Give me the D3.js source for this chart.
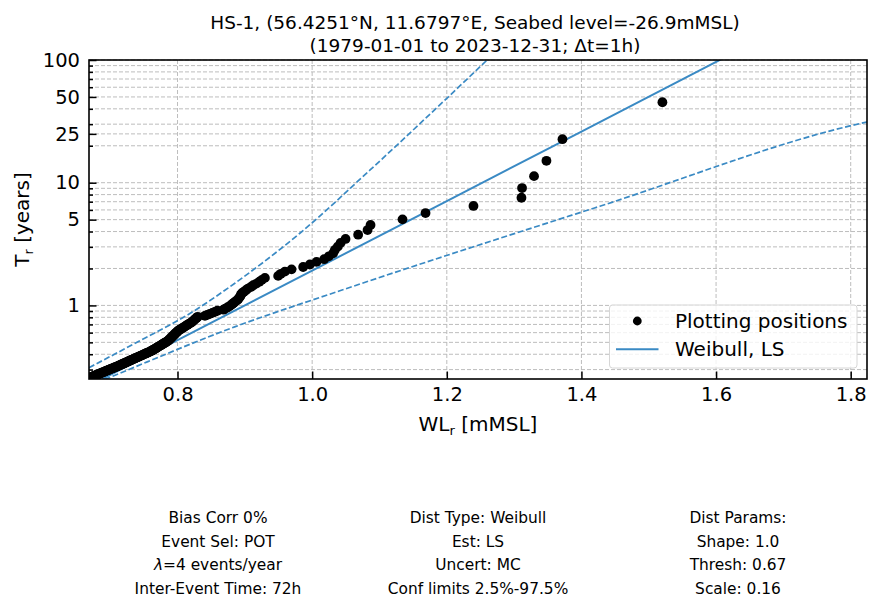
<!DOCTYPE html>
<html>
<head>
<meta charset="utf-8">
<script src="https://cdn.jsdelivr.net/npm/d3@7"></script>
<style>
  html, body { margin: 0; padding: 0; background: #fff; }
  svg { display: block; font-family: "DejaVu Sans", sans-serif; }
</style>
</head>
<body>
<svg id="chart" width="869" height="599"></svg>
<script>
// ---------------- DATA ----------------
const titleLines = [
  "HS-1, (56.4251°N, 11.6797°E, Seabed level=-26.9mMSL)",
  "(1979-01-01 to 2023-12-31; Δt=1h)"
];
const xDomain = [0.6685, 1.8242];
const yDomain = [0.2514, 100];
const xTicks = [0.8, 1.0, 1.2, 1.4, 1.6, 1.8];
const xTickLabels = ["0.8", "1.0", "1.2", "1.4", "1.6", "1.8"];
const yTicks = [1, 5, 10, 25, 50, 100];
const yTickLabels = ["1", "5", "10", "25", "50", "100"];
const yMinorTicks = [0.3, 0.4, 0.5, 0.6, 0.7, 0.8, 0.9, 2, 3, 4, 6, 7, 8, 9, 20, 30, 40, 60, 70, 80, 90];

// Plotting positions (water level, return period)
const ppWL = [
  1.5203, 1.3718, 1.3480, 1.3296, 1.3118, 1.3109, 1.2396, 1.1684, 1.1342, 1.0867,
  1.0823, 1.0683, 1.0496, 1.0422, 1.0382, 1.0337, 1.0312, 1.0248, 1.0178, 1.0065,
  0.9966, 0.9866, 0.9694, 0.9595, 0.9535, 0.9495, 0.9298, 0.9253, 0.9216, 0.9172,
  0.9124, 0.9090, 0.9045, 0.9016, 0.8986, 0.8956, 0.8941, 0.8934, 0.8919, 0.8904,
  0.8889, 0.8860, 0.8837, 0.8815, 0.8793, 0.8771, 0.8741, 0.8711, 0.8682, 0.8592,
  0.8555, 0.8518, 0.8481, 0.8444, 0.8407, 0.8300, 0.8285, 0.8270, 0.8255, 0.8240,
  0.8225, 0.8210, 0.8190, 0.8170, 0.8151, 0.8131, 0.8112, 0.8094, 0.8075, 0.8057,
  0.8039, 0.8021, 0.8006, 0.7996, 0.7985, 0.7975, 0.7964, 0.7954, 0.7944, 0.7934,
  0.7925, 0.7915, 0.7906, 0.7896, 0.7887, 0.7878, 0.7869, 0.7858, 0.7844, 0.7829,
  0.7815, 0.7800, 0.7786, 0.7772, 0.7759, 0.7745, 0.7732, 0.7718, 0.7705, 0.7692,
  0.7679, 0.7666, 0.7653, 0.7641, 0.7628, 0.7616, 0.7600, 0.7584, 0.7567, 0.7552,
  0.7536, 0.7520, 0.7505, 0.7489, 0.7474, 0.7459, 0.7444, 0.7429, 0.7414, 0.7400,
  0.7385, 0.7371, 0.7356, 0.7342, 0.7328, 0.7314, 0.7301, 0.7287, 0.7273, 0.7260,
  0.7246, 0.7233, 0.7220, 0.7207, 0.7194, 0.7181, 0.7168, 0.7155, 0.7143, 0.7130,
  0.7118, 0.7104, 0.7091, 0.7078, 0.7064, 0.7051, 0.7038, 0.7025, 0.7012, 0.7000,
  0.6987, 0.6974, 0.6962, 0.6949, 0.6937, 0.6925, 0.6912, 0.6900, 0.6888, 0.6876,
  0.6864, 0.6852, 0.6841, 0.6829, 0.6817, 0.6806, 0.6794, 0.6783, 0.6771, 0.6760,
  0.6749, 0.6738, 0.6727, 0.6716, 0.6705, 0.6694, 0.6685, 0.6682, 0.6680, 0.6678
];
const ppTr = [
  45.25, 22.63, 15.08, 11.31, 9.050, 7.542, 6.464, 5.656, 5.028, 4.525,
  4.114, 3.771, 3.481, 3.232, 3.017, 2.828, 2.662, 2.514, 2.382, 2.263,
  2.155, 2.057, 1.967, 1.885, 1.810, 1.740, 1.676, 1.616, 1.560, 1.508,
  1.460, 1.414, 1.371, 1.331, 1.293, 1.257, 1.223, 1.191, 1.160, 1.131,
  1.104, 1.077, 1.052, 1.028, 1.006, 0.984, 0.963, 0.943, 0.923, 0.905,
  0.887, 0.870, 0.854, 0.838, 0.823, 0.808, 0.794, 0.780, 0.767, 0.754,
  0.742, 0.730, 0.718, 0.707, 0.696, 0.686, 0.675, 0.665, 0.656, 0.646,
  0.637, 0.628, 0.620, 0.611, 0.603, 0.595, 0.588, 0.580, 0.573, 0.566,
  0.559, 0.552, 0.545, 0.539, 0.532, 0.526, 0.520, 0.514, 0.508, 0.503,
  0.497, 0.492, 0.487, 0.481, 0.476, 0.471, 0.466, 0.462, 0.457, 0.4525,
  0.448, 0.444, 0.439, 0.435, 0.431, 0.427, 0.423, 0.419, 0.415, 0.411,
  0.408, 0.404, 0.400, 0.397, 0.393, 0.390, 0.387, 0.383, 0.380, 0.377,
  0.374, 0.371, 0.368, 0.365, 0.362, 0.359, 0.356, 0.354, 0.351, 0.348,
  0.345, 0.343, 0.340, 0.338, 0.335, 0.333, 0.330, 0.328, 0.326, 0.323,
  0.321, 0.319, 0.316, 0.314, 0.312, 0.310, 0.308, 0.306, 0.304, 0.302,
  0.300, 0.298, 0.296, 0.294, 0.292, 0.290, 0.288, 0.286, 0.285, 0.283,
  0.281, 0.279, 0.278, 0.276, 0.274, 0.273, 0.271, 0.269, 0.268, 0.266,
  0.265, 0.263, 0.262, 0.260, 0.259, 0.257, 0.256, 0.254, 0.253, 0.2514
];

// Weibull LS fit line
const fitWL = [0.660, 0.800, 1.000, 1.200, 1.400, 1.620];
const fitTr = [0.209, 0.522, 1.923, 7.09, 26.1, 110];
// Confidence limits (dashed)
const upperWL = [0.6685, 0.7442, 0.8184, 0.8852, 0.9817, 1.0857, 1.1996, 1.2628, 1.285];
const upperTr = [0.311, 0.516, 0.859, 1.517, 3.873, 12.65, 48.5, 103.5, 135];
const lowerWL = [0.668, 0.6892, 0.8859, 1.0411, 1.4273, 1.8237, 1.84];
const lowerTr = [0.221, 0.2462, 0.672, 1.316, 6.43, 31.2, 32.6];

const legendLabels = ["Plotting positions", "Weibull, LS"];
const xLabel = ["WL", "r", " [mMSL]"];
const yLabel = ["T", "r", " [years]"];
const infoColumns = [
  ["Bias Corr 0%", "Event Sel: POT", "λ=4 events/year", "Inter-Event Time: 72h"],
  ["Dist Type: Weibull", "Est: LS", "Uncert: MC", "Conf limits 2.5%-97.5%"],
  ["Dist Params:", "Shape: 1.0", "Thresh: 0.67", "Scale: 0.16"]
];

// ---------------- LAYOUT / STYLE ----------------
const P = { left: 89, right: 867, top: 60, bottom: 379 };
const blue = "#3a8ac4";
const gridColor = "#bdbdbd";

const svg = d3.select("#chart");
const x = d3.scaleLinear().domain(xDomain).range([P.left, P.right]);
const y = d3.scaleLog().domain(yDomain).range([P.bottom, P.top]);

svg.append("defs").append("clipPath").attr("id", "plotclip")
  .append("rect").attr("x", P.left).attr("y", P.top)
  .attr("width", P.right - P.left).attr("height", P.bottom - P.top);

// Grid
const grid = svg.append("g");
grid.selectAll("line.hg").data(yTicks.concat(yMinorTicks)).join("line")
  .attr("x1", P.left).attr("x2", P.right)
  .attr("y1", d => y(d)).attr("y2", d => y(d))
  .attr("stroke", gridColor).attr("stroke-width", 1).attr("stroke-dasharray", "4,2");
grid.selectAll("line.vg").data(xTicks).join("line")
  .attr("y1", P.top).attr("y2", P.bottom)
  .attr("x1", d => x(d)).attr("x2", d => x(d))
  .attr("stroke", gridColor).attr("stroke-width", 1).attr("stroke-dasharray", "4,2");

// Data layer
const plot = svg.append("g").attr("clip-path", "url(#plotclip)");
const lineGen = d3.line().x(d => x(d[0])).y(d => y(d[1]));
const smoothGen = d3.line().x(d => x(d[0])).y(d => y(d[1])).curve(d3.curveMonotoneX);

plot.append("path").datum(d3.zip(upperWL, upperTr)).attr("d", smoothGen)
  .attr("fill", "none").attr("stroke", blue).attr("stroke-width", 1.7)
  .attr("stroke-dasharray", "6,2.6");
plot.append("path").datum(d3.zip(lowerWL, lowerTr)).attr("d", smoothGen)
  .attr("fill", "none").attr("stroke", blue).attr("stroke-width", 1.7)
  .attr("stroke-dasharray", "6,2.6");
plot.append("path").datum(d3.zip(fitWL, fitTr)).attr("d", lineGen)
  .attr("fill", "none").attr("stroke", blue).attr("stroke-width", 2);

plot.selectAll("circle").data(d3.zip(ppWL, ppTr)).join("circle")
  .attr("cx", d => x(d[0])).attr("cy", d => y(d[1])).attr("r", 4.9)
  .attr("fill", "#000");

// Axes (ticks pointing inwards)
const fs = 19.5;
const xAxis = d3.axisBottom(x).tickValues(xTicks)
  .tickFormat((d, i) => xTickLabels[i]).tickSize(-7.5).tickPadding(8.5);
const gx = svg.append("g").attr("transform", `translate(0,${P.bottom})`).call(xAxis);
const yAxis = d3.axisLeft(y).tickValues(yTicks)
  .tickFormat((d, i) => yTickLabels[i]).tickSize(-7.5).tickPadding(9);
const gy = svg.append("g").attr("transform", `translate(${P.left},0)`).call(yAxis);
const yMinor = d3.axisLeft(y).tickValues(yMinorTicks).tickFormat("").tickSize(-4);
const gym = svg.append("g").attr("transform", `translate(${P.left},0)`).call(yMinor);
[gx, gy, gym].forEach(g => {
  g.select(".domain").remove();
  g.selectAll(".tick line").attr("stroke", "#000").attr("stroke-width", 1.5);
  g.selectAll(".tick text").attr("fill", "#000")
    .style("font-family", "DejaVu Sans").style("font-size", fs + "px");
});

// Frame
svg.append("rect").attr("x", P.left).attr("y", P.top)
  .attr("width", P.right - P.left).attr("height", P.bottom - P.top)
  .attr("fill", "none").attr("stroke", "#000").attr("stroke-width", 1.6);

// Axis labels
const xl = svg.append("text").attr("x", (P.left + P.right) / 2).attr("y", 431)
  .attr("text-anchor", "middle").style("font-size", "20px");
xl.append("tspan").text(xLabel[0]);
xl.append("tspan").attr("dy", 4).style("font-size", "13px").text(xLabel[1]);
xl.append("tspan").attr("dy", -4).text(xLabel[2]);

const yl = svg.append("text")
  .attr("transform", `translate(29,${(P.top + P.bottom) / 2}) rotate(-90)`)
  .attr("text-anchor", "middle").style("font-size", "20px");
yl.append("tspan").text(yLabel[0]);
yl.append("tspan").attr("dy", 4).style("font-size", "13px").text(yLabel[1]);
yl.append("tspan").attr("dy", -4).text(yLabel[2]);

// Title
svg.selectAll("text.title").data(titleLines).join("text")
  .attr("class", "title")
  .attr("x", 475).attr("y", (d, i) => 28.5 + i * 23.5)
  .attr("text-anchor", "middle").style("font-size", "18.5px").text(d => d);

// Legend
const lg = svg.append("g");
lg.append("rect").attr("x", 609.5).attr("y", 305).attr("width", 247.5).attr("height", 63)
  .attr("rx", 3).attr("fill", "#fff").attr("fill-opacity", 0.8)
  .attr("stroke", "#d6d6d6").attr("stroke-width", 1);
lg.append("circle").attr("cx", 637.3).attr("cy", 321).attr("r", 4.4).attr("fill", "#000");
lg.append("line").attr("x1", 616).attr("x2", 658.5).attr("y1", 349.3).attr("y2", 349.3)
  .attr("stroke", blue).attr("stroke-width", 2);
lg.selectAll("text").data(legendLabels).join("text")
  .attr("x", 675).attr("y", (d, i) => 327.8 + i * 28.5)
  .style("font-size", "20px").text(d => d);

// Info text columns
const colX = [218, 478, 738];
infoColumns.forEach((col, ci) => {
  col.forEach((line, li) => {
    const t = svg.append("text").attr("x", colX[ci]).attr("y", 523 + li * 23.5)
      .attr("text-anchor", "middle").style("font-size", "15.4px");
    const parts = line.split(/(λ)/);
    parts.forEach(p => {
      if (!p) return;
      const ts = t.append("tspan").text(p);
      if (p === "λ") ts.style("font-style", "italic");
    });
  });
});
</script>
</body>
</html>
